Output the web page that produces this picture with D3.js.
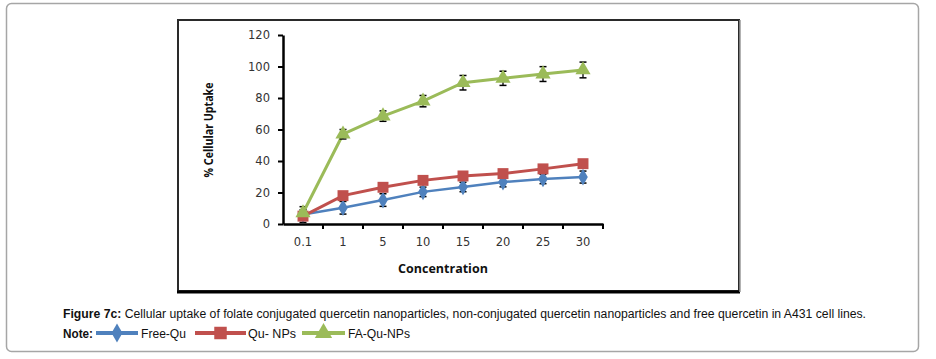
<!DOCTYPE html>
<html><head><meta charset="utf-8">
<script src="https://cdn.jsdelivr.net/npm/d3@7/dist/d3.min.js"></script>
<style>body{margin:0;background:#fff}svg{display:block}</style>
</head><body><svg id="c" width="936" height="359"></svg>
<script>
const categories = ["0.1","1","5","10","15","20","25","30"];
const freeQu   = [6, 10.3, 15.2, 20.4, 23.5, 26.6, 28.6, 29.8];
const freeQuErr= [5, 4, 4, 3, 3, 3, 3, 3.8];
const quNPs    = [5, 18, 23.3, 27.7, 30.5, 32, 35, 38.3];
const quNPsErr = [2, 2, 2, 2, 2, 2, 2, 2];
const faQuNPs  = [7, 57, 68.5, 78, 89.7, 92.5, 95.2, 97.8];
const faQuNPsErr=[2, 3, 3.3, 3.6, 4.6, 4.5, 4.7, 5];
const yTicks = [0,20,40,60,80,100,120];
const seriesNames = ["Free-Qu","Qu- NPs","FA-Qu-NPs"];

const series = [
  {name:seriesNames[0], values:freeQu, err:freeQuErr, color:"#4f81bd", sym:d3.symbolDiamond, size:80, w:2.5},
  {name:seriesNames[1], values:quNPs, err:quNPsErr, color:"#c0504d", sym:d3.symbolSquare, size:120, w:3},
  {name:seriesNames[2], values:faQuNPs, err:faQuNPsErr, color:"#9bbb59", sym:d3.symbolTriangle, size:100, w:3}
];

const svg = d3.select("#c");
svg.append("rect").attr("x",6.5).attr("y",3.5).attr("width",912).attr("height",348)
  .attr("rx",5).attr("fill","#fff").attr("stroke","#a6a6a6").attr("stroke-width",1.5);
svg.append("rect").attr("x",178).attr("y",20).attr("width",561).attr("height",271)
  .attr("fill","#fff").attr("stroke","#2a2a2a").attr("stroke-width",2);
svg.append("line").attr("x1",177).attr("x2",740).attr("y1",292).attr("y2",292)
  .attr("stroke","#000").attr("stroke-width",3);
svg.append("line").attr("x1",740).attr("x2",740).attr("y1",20).attr("y2",292)
  .attr("stroke","#999").attr("stroke-width",1.5);

const x = d3.scaleBand().domain(categories).range([283,603]).padding(0);
const y = d3.scaleLinear().domain([0,120]).range([224,35]);
const cx = c => x(c) + x.bandwidth()/2;

const yAx = svg.append("g").attr("transform","translate(283,0)")
  .call(d3.axisLeft(y).tickValues(yTicks).tickSize(5).tickPadding(8).tickSizeOuter(0));
yAx.select(".domain").attr("stroke","#000").attr("stroke-width",2.5);
yAx.selectAll(".tick line").attr("stroke","#000").attr("stroke-width",2);
yAx.selectAll("text").attr("font-family","DejaVu Sans").attr("font-size",11.5).attr("fill","#333");

const xAx = svg.append("g").attr("transform","translate(0,224)")
  .call(d3.axisBottom(x).tickSize(0).tickPadding(14).tickSizeOuter(0));
xAx.select(".domain").attr("stroke","#000").attr("stroke-width",2.5);
xAx.selectAll("text").attr("font-family","DejaVu Sans").attr("font-size",11.5).attr("fill","#333");
const bounds = categories.map(c => x(c) + x.bandwidth());
svg.append("g").selectAll("line").data(bounds).join("line")
  .attr("x1",d=>d).attr("x2",d=>d).attr("y1",224).attr("y2",229)
  .attr("stroke","#000").attr("stroke-width",2);

svg.append("text").attr("transform","translate(213,130) rotate(-90)")
  .attr("text-anchor","middle").attr("font-family","Open Sans").attr("font-weight","bold")
  .attr("font-size",13).attr("fill","#111").attr("textLength",95).attr("lengthAdjust","spacingAndGlyphs")
  .text("% Cellular Uptake");
svg.append("text").attr("x",443).attr("y",273).attr("text-anchor","middle")
  .attr("font-family","Open Sans").attr("font-weight","bold").attr("font-size",12.5)
  .attr("fill","#111").text("Concentration");

const line = d3.line().x((d,i)=>cx(categories[i])).y(d=>y(d));
series.forEach(s=>{
  const g = svg.append("g");
  g.append("path").datum(s.values).attr("d",line).attr("fill","none")
    .attr("stroke",s.color).attr("stroke-width",s.w);
  s.values.forEach((v,i)=>{
    const px = cx(categories[i]);
    const y1 = y(v + s.err[i]), y2 = Math.min(y(v - s.err[i]), 224);
    g.append("line").attr("x1",px).attr("x2",px).attr("y1",y1).attr("y2",y2)
      .attr("stroke","#000").attr("stroke-width",1.3);
    g.append("line").attr("x1",px-3.5).attr("x2",px+3.5).attr("y1",y1).attr("y2",y1)
      .attr("stroke","#000").attr("stroke-width",1.5);
    if (y(v - s.err[i]) < 223)
      g.append("line").attr("x1",px-3.5).attr("x2",px+3.5).attr("y1",y2).attr("y2",y2)
        .attr("stroke","#000").attr("stroke-width",1.5);
  });
  g.selectAll("path.m").data(s.values).join("path").attr("class","m")
    .attr("d", d3.symbol().type(s.sym).size(s.size))
    .attr("transform",(d,i)=>`translate(${cx(categories[i])},${y(d)})`)
    .attr("fill",s.color);
});

const FF = "Liberation Sans Narrow, Liberation Sans";
const cap = svg.append("text").attr("x",63).attr("y",318)
  .attr("font-family",FF).attr("font-size",12.5).attr("fill","#111")
  .attr("textLength",803).attr("lengthAdjust","spacingAndGlyphs");
cap.append("tspan").attr("font-weight","bold").text("Figure 7c: ");
cap.append("tspan").text("Cellular uptake of folate conjugated quercetin nanoparticles, non-conjugated quercetin nanoparticles and free quercetin in A431 cell lines.");

const ly = 333;
svg.append("text").attr("x",63).attr("y",ly+4.5).attr("font-family",FF)
  .attr("font-weight","bold").attr("font-size",12.5).attr("fill","#111")
  .attr("textLength",30).attr("lengthAdjust","spacingAndGlyphs").text("Note:");
const legPos = [{x1:96,x2:138,tx:141,tl:45},{x1:195,x2:246,tx:248,tl:48},{x1:302,x2:345,tx:348,tl:62}];
series.forEach((s,i)=>{
  const p = legPos[i];
  svg.append("line").attr("x1",p.x1).attr("x2",p.x2).attr("y1",ly).attr("y2",ly)
    .attr("stroke",s.color).attr("stroke-width",4);
  svg.append("path").attr("d",d3.symbol().type(s.sym).size(s.size*1.3))
    .attr("transform",`translate(${(p.x1+p.x2)/2},${ly})`).attr("fill",s.color);
  svg.append("text").attr("x",p.tx).attr("y",ly+4.5).attr("font-family",FF)
    .attr("font-size",12.5).attr("fill","#111")
    .attr("textLength",p.tl).attr("lengthAdjust","spacingAndGlyphs").text(s.name);
});
</script></body></html>
